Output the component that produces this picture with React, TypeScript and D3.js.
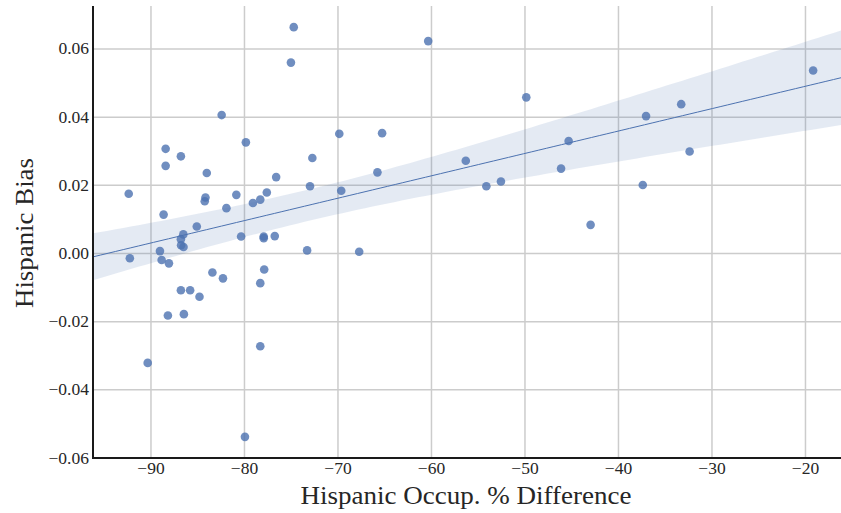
import React from 'react';
import * as d3 from 'd3';

// Hispanic occupation % difference vs. bias
const occDiff = [
  -92.38, -92.26, -90.35, -89.04, -88.86, -88.65, -88.43, -88.43, -88.19, -88.08,
  -86.8, -86.8, -86.54, -86.78, -86.52, -86.8, -86.48, -85.81, -85.1, -84.81,
  -84.25, -84.17, -84.03, -83.43, -82.44, -82.3, -81.93, -80.87, -80.36, -79.95,
  -79.85, -79.1, -78.31, -78.31, -78.31, -77.94, -77.94, -77.89, -77.61, -76.76,
  -76.61, -75.03, -74.73, -73.3, -72.99, -72.74, -69.86, -69.65, -67.73, -65.78,
  -65.28, -60.35, -56.33, -54.13, -52.57, -49.86, -46.14, -45.33, -42.98, -37.4,
  -37.05, -33.29, -32.39, -19.18,
];
const bias = [
  0.0175, -0.0014, -0.0321, 0.0007, -0.0019, 0.0114, 0.0307, 0.0257, -0.0182, -0.0029,
  0.0285, 0.0042, 0.0056, 0.0024, 0.0019, -0.0108, -0.0178, -0.0108, 0.0079, -0.0127,
  0.0153, 0.0164, 0.0236, -0.0056, 0.0406, -0.0073, 0.0133, 0.0172, 0.005, -0.0538,
  0.0326, 0.0148, 0.0158, -0.0087, -0.0272, 0.005, 0.0045, -0.0047, 0.0179, 0.0051,
  0.0224, 0.056, 0.0664, 0.0009, 0.0197, 0.028, 0.0351, 0.0184, 0.0005, 0.0238,
  0.0353, 0.0623, 0.0272, 0.0197, 0.0211, 0.0458, 0.0249, 0.033, 0.0084, 0.0201,
  0.0403, 0.0438, 0.0299, 0.0537,
];
const xTicks = [-90, -80, -70, -60, -50, -40, -30, -20];
const yTicks = [-0.06, -0.04, -0.02, 0.0, 0.02, 0.04, 0.06];

const W = 841;
const H = 513;
const left = 93;
const top = 6;
const bottom = 458;
const FONT = '"Liberation Serif", "DejaVu Serif", serif';
const BLUE = '#4c72b0';
const INK = '#262626';

function fmtMinus(s: string) {
  return s.replace('-', '\u2212');
}

export default function App() {
  const x = d3.scaleLinear().domain([-96.2, -16.2]).range([left, W]);
  const y = d3.scaleLinear().domain([-0.06, 0.0726]).range([bottom, top]);

  // least squares fit plus a confidence band for the mean
  const n = occDiff.length;
  const mx = d3.mean(occDiff)!;
  const my = d3.mean(bias)!;
  let sxx = 0;
  let sxy = 0;
  occDiff.forEach((v, i) => {
    sxx += (v - mx) ** 2;
    sxy += (v - mx) * (bias[i] - my);
  });
  const slope = sxy / sxx;
  const icpt = my - slope * mx;
  let sse = 0;
  occDiff.forEach((v, i) => {
    sse += (bias[i] - (icpt + slope * v)) ** 2;
  });
  const s = Math.sqrt(sse / (n - 2));
  const t = 1.6;
  const grid = d3.range(100).map((i) => -96.2 + (i / 99) * 80);
  const fit = grid.map((g) => {
    const yh = icpt + slope * g;
    const se = s * Math.sqrt(1.4 / n + (g - mx) ** 2 / sxx);
    return { g, yh, lo: yh - t * se, hi: yh + t * se };
  });
  const area = d3
    .area<(typeof fit)[number]>()
    .x((d) => x(d.g))
    .y0((d) => y(d.lo))
    .y1((d) => y(d.hi));
  const line = d3
    .line<(typeof fit)[number]>()
    .x((d) => x(d.g))
    .y((d) => y(d.yh));
  const yFmt = d3.format('.2f');

  return (
    <svg
      width={W}
      height={H}
      style={{ position: 'absolute', left: 0, top: 0, background: '#fff' }}
      fontFamily={FONT}
    >
      <g>
        {xTicks.map((v) => (
          <line key={v} x1={x(v)} x2={x(v)} y1={top} y2={bottom} stroke="#cccccc" strokeWidth={1.5} />
        ))}
        {yTicks.map((v) => (
          <line key={v} x1={left} x2={W} y1={y(v)} y2={y(v)} stroke="#cccccc" strokeWidth={1.5} />
        ))}
      </g>
      <path d={area(fit) ?? ''} fill={BLUE} fillOpacity={0.15} />
      <path d={line(fit) ?? ''} fill="none" stroke={BLUE} strokeWidth={1} />
      <g>
        {occDiff.map((v, i) => (
          <circle key={i} cx={x(v)} cy={y(bias[i])} r={4.3} fill={BLUE} fillOpacity={0.8} />
        ))}
      </g>
      <line x1={left} x2={left} y1={top} y2={bottom + 1} stroke="#1a1a1a" strokeWidth={2} />
      <line x1={left - 1} x2={W} y1={bottom} y2={bottom} stroke="#1a1a1a" strokeWidth={2} />
      <g fontSize={17.5} fill={INK}>
        {xTicks.map((v) => (
          <text key={v} x={x(v)} y={bottom + 16} textAnchor="middle">
            {fmtMinus(String(v))}
          </text>
        ))}
        {yTicks.map((v) => (
          <text key={v} x={left - 4} y={y(v) + 5.5} textAnchor="end">
            {fmtMinus(yFmt(v))}
          </text>
        ))}
      </g>
      <text
        x={466}
        y={504}
        textAnchor="middle"
        fontSize={26}
        fill={INK}
        textLength={331}
        lengthAdjust="spacingAndGlyphs"
      >
        Hispanic Occup. % Difference
      </text>
      <text
        transform={`translate(33,233) rotate(-90)`}
        textAnchor="middle"
        fontSize={26}
        fill={INK}
        textLength={150}
        lengthAdjust="spacingAndGlyphs"
      >
        Hispanic Bias
      </text>
    </svg>
  );
}
